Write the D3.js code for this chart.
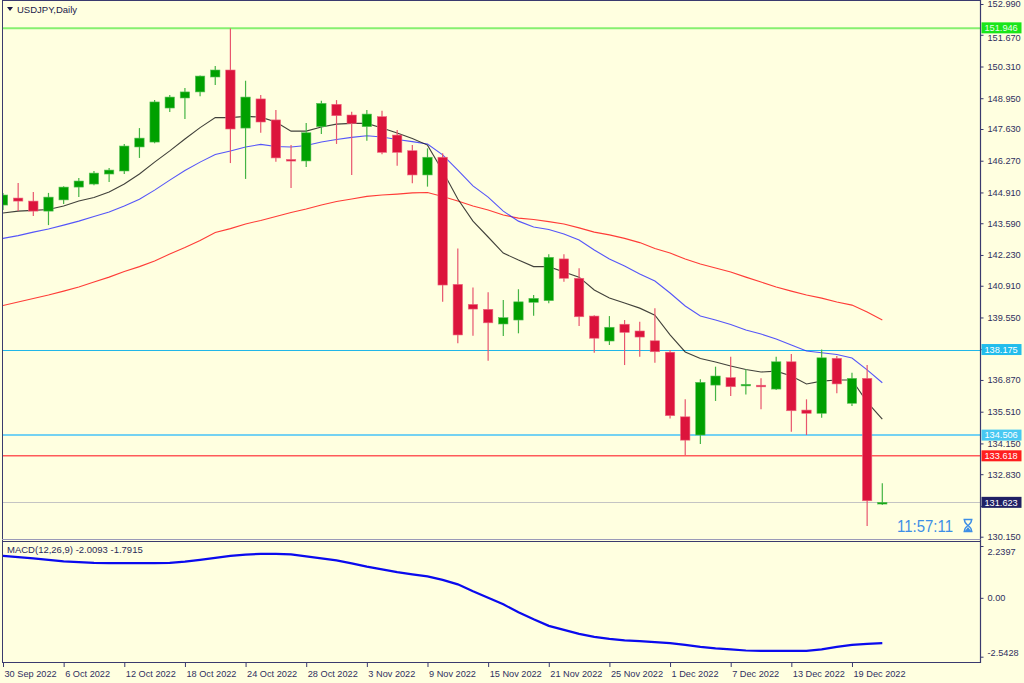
<!DOCTYPE html>
<html>
<head>
<meta charset="utf-8">
<script src="https://cdn.jsdelivr.net/npm/d3@7/dist/d3.min.js"></script>
<style>
html,body{margin:0;padding:0;background:#FFFFE0;}
svg{display:block;font-family:"Liberation Sans",Arial,sans-serif;}
</style>
</head>
<body>
<svg id="chart" width="1024" height="683"></svg>
<script>
// ---------- DATA ----------
const dates = ["30 Sep 2022","3 Oct 2022","4 Oct 2022","5 Oct 2022","6 Oct 2022","7 Oct 2022","10 Oct 2022","11 Oct 2022","12 Oct 2022","13 Oct 2022","14 Oct 2022","17 Oct 2022","18 Oct 2022","19 Oct 2022","20 Oct 2022","21 Oct 2022","24 Oct 2022","25 Oct 2022","26 Oct 2022","27 Oct 2022","28 Oct 2022","31 Oct 2022","1 Nov 2022","2 Nov 2022","3 Nov 2022","4 Nov 2022","7 Nov 2022","8 Nov 2022","9 Nov 2022","10 Nov 2022","11 Nov 2022","14 Nov 2022","15 Nov 2022","16 Nov 2022","17 Nov 2022","18 Nov 2022","21 Nov 2022","22 Nov 2022","23 Nov 2022","24 Nov 2022","25 Nov 2022","28 Nov 2022","29 Nov 2022","30 Nov 2022","1 Dec 2022","2 Dec 2022","5 Dec 2022","6 Dec 2022","7 Dec 2022","8 Dec 2022","9 Dec 2022","12 Dec 2022","13 Dec 2022","14 Dec 2022","15 Dec 2022","16 Dec 2022","19 Dec 2022","20 Dec 2022","21 Dec 2022"];
const openP  = [144.37,144.67,144.54,144.11,144.59,145.14,145.27,145.70,145.83,146.86,147.07,148.53,148.96,149.22,149.86,150.16,147.67,148.92,148.02,146.32,146.26,147.73,148.69,148.23,147.73,148.16,147.37,146.70,145.66,146.42,140.97,140.11,139.90,139.27,139.44,140.20,140.27,142.06,141.23,139.61,138.54,139.26,138.97,138.55,138.06,135.29,134.51,136.65,136.97,136.62,136.64,136.48,137.65,135.58,135.44,137.80,135.87,136.94,131.55];
const highP  = [144.89,145.31,144.93,144.89,145.18,145.53,145.83,145.96,146.99,147.67,148.87,149.09,149.39,149.92,150.33,151.946,149.70,149.09,148.44,146.94,147.89,148.84,148.87,148.37,148.44,148.41,147.59,146.94,146.80,146.59,142.51,140.84,140.63,140.30,140.76,140.51,142.26,142.26,141.66,139.65,139.61,139.44,139.37,139.94,138.15,136.04,136.90,137.44,137.87,137.33,136.94,137.87,137.98,136.04,138.18,137.90,137.18,137.51,132.44];
const lowP   = [144.16,144.11,143.90,143.51,144.41,144.71,145.22,145.36,145.70,146.39,147.02,148.36,148.06,149.04,149.52,146.17,145.49,147.47,146.23,145.10,146.00,147.42,146.99,145.66,147.13,146.55,146.06,145.30,145.16,140.22,138.44,138.77,137.69,138.75,138.87,139.62,140.16,141.08,139.18,138.04,138.37,137.51,137.87,137.61,135.22,133.65,134.12,135.97,136.18,136.25,135.61,136.44,134.65,134.51,135.25,136.30,135.75,130.61,131.51];
const closeP = [144.80,144.54,144.11,144.71,145.14,145.40,145.74,145.87,146.90,147.24,148.79,149.00,149.22,149.90,150.16,147.63,149.00,147.93,146.39,146.26,147.47,148.73,148.20,147.87,148.27,146.63,146.63,145.66,146.42,140.94,138.80,139.91,139.32,139.54,140.22,140.37,142.13,141.23,139.58,138.66,139.13,138.91,138.71,138.08,135.34,134.29,136.77,137.04,136.58,136.68,136.58,137.65,135.55,135.44,137.82,136.70,136.94,131.69,131.623];
const maBlack = [144.03,144.11,144.14,144.18,144.33,144.54,144.69,144.93,145.27,145.70,146.21,146.69,147.20,147.69,148.12,148.12,148.17,148.14,147.93,147.54,147.54,147.72,147.84,147.87,147.87,147.67,147.46,147.22,146.94,145.83,144.63,143.68,143.00,142.31,142.01,141.73,141.73,141.50,141.28,140.73,140.38,140.17,139.95,139.65,138.80,138.07,137.79,137.64,137.47,137.32,137.21,137.25,137.04,136.70,136.82,136.87,136.87,135.92,135.19];
const maBlue  = [142.94,143.06,143.21,143.34,143.51,143.68,143.88,144.07,144.33,144.62,145.01,145.44,145.85,146.21,146.54,146.69,146.86,146.97,146.88,146.86,146.92,147.07,147.18,147.27,147.34,147.29,147.18,147.09,146.99,146.52,145.87,145.19,144.71,144.11,143.68,143.43,143.32,143.13,142.87,142.44,142.06,141.76,141.41,141.11,140.60,140.04,139.61,139.44,139.25,139.01,138.84,138.63,138.37,138.11,138.04,137.96,137.81,137.30,136.75];
const maRed   = [140.06,140.21,140.36,140.51,140.68,140.86,141.07,141.28,141.52,141.73,141.97,142.27,142.55,142.85,143.19,143.36,143.56,143.71,143.88,144.05,144.20,144.37,144.52,144.63,144.74,144.80,144.84,144.89,144.91,144.74,144.54,144.33,144.16,143.94,143.81,143.75,143.66,143.56,143.39,143.21,143.09,142.94,142.76,142.51,142.31,142.06,141.84,141.67,141.50,141.28,141.07,140.86,140.68,140.51,140.38,140.21,140.08,139.78,139.44];
const macdLine = [1.814,1.758,1.706,1.641,1.577,1.542,1.512,1.499,1.499,1.499,1.499,1.512,1.564,1.641,1.728,1.814,1.870,1.901,1.901,1.879,1.793,1.706,1.620,1.490,1.352,1.231,1.110,1.015,0.929,0.778,0.583,0.281,0.000,-0.281,-0.626,-0.929,-1.210,-1.382,-1.555,-1.685,-1.771,-1.836,-1.870,-1.914,-1.957,-2.030,-2.117,-2.181,-2.225,-2.276,-2.289,-2.289,-2.289,-2.289,-2.225,-2.117,-2.030,-1.987,-1.957];
const priceTicks = [152.990,151.670,150.310,148.950,147.630,146.270,144.910,143.590,142.230,140.910,139.550,138.190,136.870,135.510,134.150,132.830,131.470,130.150];
// labels hidden behind the price-level boxes in the reference are left blank
const priceTickLabels = ["152.990","151.670","150.310","148.950","147.630","146.270","144.910","143.590","142.230","140.910","139.550","","136.870","135.510","134.150","132.830","","130.150"];
const macdTicks = [2.2397,0.00,-2.5428];
const macdTickLabels = ["2.2397","0.00","-2.5428"];
const dateLabels = ["30 Sep 2022","6 Oct 2022","12 Oct 2022","18 Oct 2022","24 Oct 2022","28 Oct 2022","3 Nov 2022","9 Nov 2022","15 Nov 2022","21 Nov 2022","25 Nov 2022","1 Dec 2022","7 Dec 2022","13 Dec 2022","19 Dec 2022"];
const levelValues = [151.946,138.175,134.506,133.618,131.623];
const levelLabels = ["151.946","138.175","134.506","133.618","131.623"];
const titleText = "USDJPY,Daily";
const macdTitle = "MACD(12,26,9) -2.0093 -1.7915";
const timerText = "11:57:11";

// ---------- STYLE ----------
const axisX = 980.5;
const levelStyle = [
  {line:"#86f070", w:2, bg:"#19e619", fg:"#e8ffe8"},
  {line:"#20b6e8", w:1, bg:"#22bdec", fg:"#ffffff"},
  {line:"#74d2f2", w:2, bg:"#48c8f2", fg:"#ffffff"},
  {line:"#ff5a5a", w:1.5, bg:"#ff1e1e", fg:"#ffffff"},
  {line:"#c4c4c4", w:1, bg:"#202064", fg:"#ffffff"}
];
const axisCol = "#3a3a6e", textCol = "#2f2f5f";

const svg = d3.select("#chart");
const x = d3.scalePoint().domain(dates).range([3, 882.3]);
const y = d3.scaleLinear().domain([130.15,152.99]).range([536.7,4]);
const ym = d3.scaleLinear().domain([-2.5428,2.2397]).range([656.7,546]);

const plot = svg.append("g");
plot.append("clipPath").attr("id","clipMain").append("rect").attr("x",3).attr("y",1).attr("width",977).attr("height",538);
plot.append("clipPath").attr("id","clipMacd").append("rect").attr("x",3).attr("y",542).attr("width",977).attr("height",120);

const main = plot.append("g").attr("clip-path","url(#clipMain)");

// horizontal levels
levelValues.forEach((v,i)=>{
  const yy = levelStyle[i].w === 1 ? Math.round(y(v)) + 0.5 : y(v);
  main.append("line").attr("x1",3).attr("x2",axisX).attr("y1",yy).attr("y2",yy)
    .attr("stroke",levelStyle[i].line).attr("stroke-width",levelStyle[i].w);
});

// moving averages
const lineGen = arr => d3.line().x((d,i)=>x(dates[i])).y(d=>y(d))(arr);
main.append("path").attr("d",lineGen(maRed)).attr("fill","none").attr("stroke","#ff1a1a").attr("stroke-width",1.1).attr("opacity",0.85);
main.append("path").attr("d",lineGen(maBlue)).attr("fill","none").attr("stroke","#2a2aff").attr("stroke-width",1.1).attr("opacity",0.8);
main.append("path").attr("d",lineGen(maBlack)).attr("fill","none").attr("stroke","#111").attr("stroke-width",1.1).attr("opacity",0.8);

// candles
const bw = 9.4;
dates.forEach((dt,i)=>{
  const up = closeP[i] >= openP[i];
  const cx = x(dt);
  const body = up ? "#00a000" : "#dc143c";
  const wick = up ? "#44b444" : "#e8566e";
  main.append("line").attr("x1",cx).attr("x2",cx).attr("y1",y(highP[i])).attr("y2",y(lowP[i]))
    .attr("stroke",wick).attr("stroke-width",1.2);
  const top = y(Math.max(openP[i],closeP[i])), bot = y(Math.min(openP[i],closeP[i]));
  const h = Math.max(bot-top, 1.6);
  main.append("rect").attr("x",cx-bw/2).attr("y",top - (h>bot-top ? (h-(bot-top))/2 : 0)).attr("width",bw).attr("height",h)
    .attr("fill",body).attr("stroke",up?"#5cc05c":"#ee6a80").attr("stroke-width",0.6);
});

// MACD
const macdG = plot.append("g").attr("clip-path","url(#clipMacd)");
macdG.append("path").attr("d",d3.line().x((d,i)=>x(dates[i])).y(d=>ym(d))(macdLine))
  .attr("fill","none").attr("stroke","#0a0aee").attr("stroke-width",2.2);

// frames
svg.append("line").attr("x1",2.5).attr("x2",2.5).attr("y1",0).attr("y2",663).attr("stroke",axisCol).attr("stroke-width",1);
svg.append("line").attr("x1",2).attr("x2",axisX).attr("y1",0.5).attr("y2",0.5).attr("stroke",axisCol).attr("stroke-width",1);
svg.append("line").attr("x1",axisX).attr("x2",axisX).attr("y1",0).attr("y2",663).attr("stroke",axisCol).attr("stroke-width",1.2);
svg.append("line").attr("x1",2).attr("x2",axisX).attr("y1",539.5).attr("y2",539.5).attr("stroke","#9a9ab8").attr("stroke-width",1);
svg.append("line").attr("x1",2).attr("x2",axisX).attr("y1",541.5).attr("y2",541.5).attr("stroke",axisCol).attr("stroke-width",1);
svg.append("line").attr("x1",2).attr("x2",axisX).attr("y1",662.5).attr("y2",662.5).attr("stroke",axisCol).attr("stroke-width",1);

// price axis
const pAxis = d3.axisRight(y).tickValues(priceTicks).tickSize(3).tickPadding(4).tickFormat((d,i)=>priceTickLabels[i]);
const pa = svg.append("g").attr("transform",`translate(${axisX},0)`).call(pAxis);
pa.select(".domain").remove();
pa.selectAll("line").attr("stroke",axisCol);
pa.selectAll("text").attr("fill",textCol).style("font-size","9.2px").attr("font-family","Liberation Sans, Arial, sans-serif");
pa.selectAll(".tick").filter((d,i)=>i===1).select("text").attr("dy","0.62em");

// macd axis
const mAxis = d3.axisRight(ym).tickValues(macdTicks).tickSize(3).tickPadding(4).tickFormat((d,i)=>macdTickLabels[i]);
const ma = svg.append("g").attr("transform",`translate(${axisX},0)`).call(mAxis);
ma.select(".domain").remove();
ma.selectAll("line").attr("stroke",axisCol);
ma.selectAll("text").attr("fill",textCol).style("font-size","9.2px").attr("font-family","Liberation Sans, Arial, sans-serif");
ma.selectAll(".tick").filter((d,i)=>i===0).select("text").attr("dy","0.9em");
ma.selectAll(".tick").filter((d,i)=>i===2).select("text").attr("dy","-0.1em");

// date axis
const dAxis = d3.axisBottom(x).tickValues(dateLabels).tickSize(4).tickPadding(3);
const da = svg.append("g").attr("transform","translate(0,663)").call(dAxis);
da.select(".domain").remove();
da.selectAll("line").attr("stroke",axisCol);
da.selectAll("text").attr("fill",textCol).style("font-size","9.2px").attr("text-anchor","start").attr("dx","1")
  .attr("font-family","Liberation Sans, Arial, sans-serif");

// level labels on axis
levelValues.forEach((v,i)=>{
  const yy = y(v);
  const boxTop = i === 0 ? yy-6 : yy-5.5;
  svg.append("rect").attr("x",axisX+1).attr("y",boxTop).attr("width",40).attr("height",11).attr("fill",levelStyle[i].bg);
  svg.append("text").attr("x",axisX+4).attr("y",boxTop+8.8).text(levelLabels[i]).attr("fill",levelStyle[i].fg).style("font-size","9.2px");
});

// title
svg.append("path").attr("d","M7,7 L13,7 L10,11 Z").attr("fill","#1a1a4a");
svg.append("text").attr("x",17).attr("y",13).text(titleText).attr("fill","#1a1a4a").style("font-size","9.5px");
svg.append("text").attr("x",7).attr("y",553).text(macdTitle).attr("fill","#2a2a5a").style("font-size","9.5px");

// timer
svg.append("text").attr("x",897).attr("y",532).text(timerText).attr("fill","#3d8ee6")
  .style("font-size","17px").attr("textLength",56).attr("lengthAdjust","spacingAndGlyphs");
const hg = svg.append("g").attr("fill","none").attr("stroke","#3d8ee6").attr("stroke-width",1.4);
hg.append("path").attr("d","M963.5,519.5 L972.5,519.5 M963.5,531.5 L972.5,531.5 M964.5,520 C964.5,524 968,525 968,525.5 C968,526 964.5,527 964.5,531 M971.5,520 C971.5,524 968,525 968,525.5 C968,526 971.5,527 971.5,531");
svg.append("path").attr("d","M965,531 L971,531 L968,527 Z").attr("fill","#3d8ee6");
</script>
</body>
</html>
